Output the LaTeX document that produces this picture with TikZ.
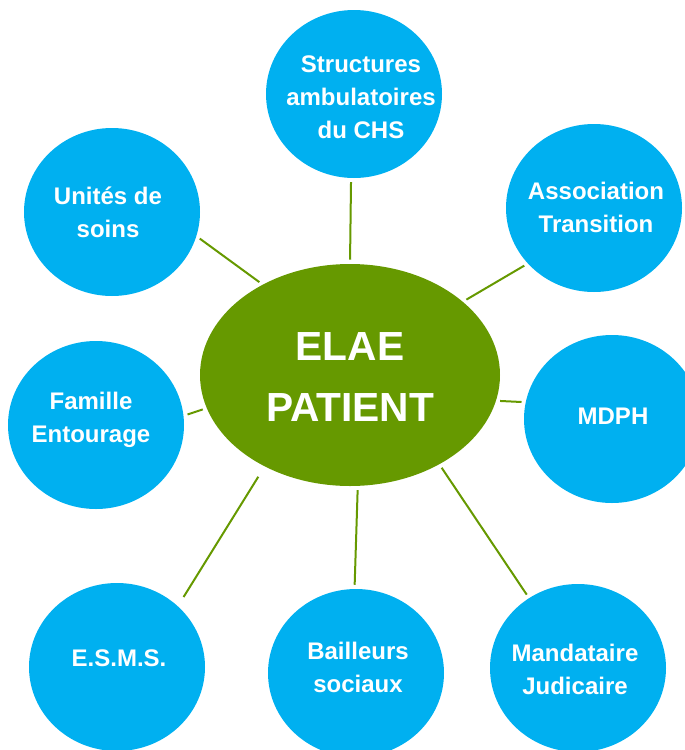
\documentclass[tikz,border=0pt]{standalone}
\usepackage{fontspec}
\setmainfont{Liberation Sans}
\usetikzlibrary{shapes.geometric}

\definecolor{bulle}{HTML}{00B0F0}
\definecolor{vert}{HTML}{669900}

\tikzset{
	partenaire/.style={ellipse, fill=bulle, inner sep=0pt, minimum width=132pt, minimum height=126pt},
	centre/.style={ellipse, fill=vert, inner sep=0pt, minimum width=225pt, minimum height=166.5pt},
	texte/.style={align=center, text=white, inner sep=0pt, font=\bfseries\fontsize{18}{24.75}\selectfont},
	grandtexte/.style={align=center, text=white, inner sep=0pt, font=\bfseries\fontsize{30.5}{45.75}\selectfont},
	lien/.style={draw=vert, line width=1.5pt, shorten <=3pt, shorten >=3pt}
}

\begin{document}
\begin{tikzpicture}[x=0.75pt, y=-0.75pt]
	\useasboundingbox (0,0) rectangle (685,750);
	% bulles
	\node[centre] (pat) at (350,375) {};
	\node[partenaire] (chs) at (354,94) {};
	\node[partenaire] (unites) at (112,212) {};
	\node[partenaire] (assoc) at (594,208) {};
	\node[partenaire] (famille) at (96,425) {};
	\node[partenaire] (mdph) at (612,419) {};
	\node[partenaire] (esms) at (117,667) {};
	\node[partenaire] (bailleurs) at (356,673) {};
	\node[partenaire] (mandataire) at (578,668) {};
	% textes
	\node[grandtexte] (tpat) at (350,377) {ELAE\\PATIENT};
	\node[texte] (tchs) at (361,97) {Structures\\ambulatoires\\du CHS};
	\node[texte] (tunites) at (108,212) {Unités de\\soins};
	\node[texte] (tassoc) at (596,207) {Association\\Transition};
	\node[texte] (tfamille) at (91,420) {Famille\\Entourage};
	\node[texte] (tmdph) at (613,416) {MDPH};
	\node[texte] (tesms) at (119,658) {E.S.M.S.};
	\node[texte] (tbailleurs) at (358,667) {Bailleurs\\sociaux};
	\node[texte] (tmandataire) at (575,669) {Mandataire\\Judicaire};
	% liens
	\draw[lien] (pat.134) -- (unites.-16);
	\draw[lien] (pat.90) -- (chs.-92);
	\draw[lien] (pat.33) -- (assoc.-140);
	\draw[lien] (pat.193) -- (famille.6);
	\draw[lien] (pat.-10) -- (mdph.169);
	\draw[lien, shorten <=9pt, shorten >=8pt] (pat.-133) -- (esms.45);
	\draw[lien] (pat.-86) -- (bailleurs.91);
	\draw[lien] (pat.-45) -- (mandataire.125);
\end{tikzpicture}
\end{document}
